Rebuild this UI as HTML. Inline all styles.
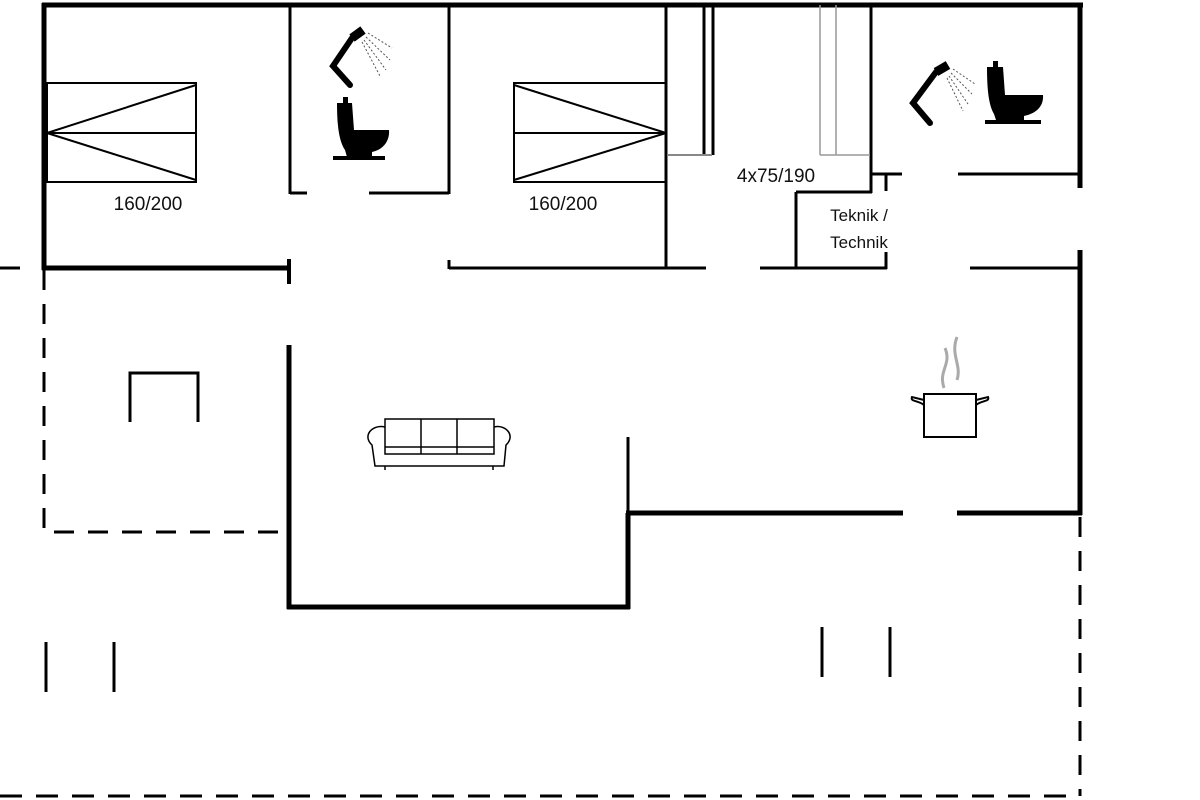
<!DOCTYPE html>
<html><head><meta charset="utf-8"><style>
html,body{margin:0;padding:0;background:#fff;}
svg{display:block;}
text{font-family:"Liberation Sans",sans-serif;fill:#111;}
</style></head><body>
<svg width="1200" height="800" viewBox="0 0 1200 800" xmlns="http://www.w3.org/2000/svg">
<g stroke="#000" fill="none" stroke-linecap="butt">
<line x1="42" y1="5" x2="1083" y2="5" stroke-width="5"/>
<line x1="44" y1="3" x2="44" y2="270" stroke-width="5"/>
<line x1="1080" y1="3" x2="1080" y2="188" stroke-width="5"/>
<line x1="1080" y1="250" x2="1080" y2="515" stroke-width="5"/>
<line x1="42" y1="268" x2="290" y2="268" stroke-width="5"/>
<line x1="289" y1="259" x2="289" y2="284" stroke-width="4"/>
<line x1="0" y1="268" x2="20" y2="268" stroke-width="3"/>
<line x1="44" y1="270" x2="44" y2="532" stroke-width="3" stroke-dasharray="20 14"/>
<line x1="44" y1="532" x2="288" y2="532" stroke-width="3" stroke-dasharray="20 14" stroke-dashoffset="-10"/>
<line x1="1080" y1="517" x2="1080" y2="796" stroke-width="3" stroke-dasharray="20 14"/>
<line x1="0" y1="796" x2="1080" y2="796" stroke-width="3" stroke-dasharray="22 14"/>
<line x1="290" y1="5" x2="290" y2="194" stroke-width="3"/>
<line x1="449" y1="5" x2="449" y2="194" stroke-width="3"/>
<line x1="290" y1="193" x2="307" y2="193" stroke-width="3"/>
<line x1="369" y1="193" x2="449" y2="193" stroke-width="3"/>
<line x1="449" y1="260" x2="449" y2="269" stroke-width="3"/>
<line x1="449" y1="268" x2="706" y2="268" stroke-width="3"/>
<line x1="666" y1="5" x2="666" y2="269" stroke-width="3"/>
<line x1="760" y1="268" x2="887" y2="268" stroke-width="3"/>
<line x1="796" y1="192" x2="796" y2="269" stroke-width="3"/>
<line x1="796" y1="192" x2="872" y2="192" stroke-width="3"/>
<line x1="871" y1="5" x2="871" y2="193" stroke-width="3"/>
<line x1="871" y1="174" x2="902" y2="174" stroke-width="3"/>
<line x1="886" y1="174" x2="886" y2="191" stroke-width="3"/>
<line x1="886" y1="252" x2="886" y2="269" stroke-width="3"/>
<line x1="958" y1="174" x2="1080" y2="174" stroke-width="3"/>
<line x1="970" y1="268" x2="1080" y2="268" stroke-width="3"/>
<line x1="704" y1="5" x2="704" y2="155" stroke-width="3"/>
<line x1="713" y1="5" x2="713" y2="155" stroke-width="3"/>
<line x1="666" y1="155" x2="712" y2="155" stroke-width="2" stroke="#888"/>
<line x1="820" y1="5" x2="820" y2="155" stroke-width="1.5" stroke="#999"/>
<line x1="836" y1="5" x2="836" y2="155" stroke-width="1.5" stroke="#999"/>
<line x1="820" y1="155" x2="870" y2="155" stroke-width="1.5" stroke="#999"/>
<line x1="289" y1="345" x2="289" y2="609" stroke-width="5"/>
<line x1="287" y1="607" x2="630" y2="607" stroke-width="5"/>
<line x1="628" y1="513" x2="628" y2="609" stroke-width="5"/>
<line x1="628" y1="437" x2="628" y2="513" stroke-width="3"/>
<line x1="626" y1="513" x2="903" y2="513" stroke-width="5"/>
<line x1="957" y1="513" x2="1082" y2="513" stroke-width="5"/>
<line x1="46" y1="642" x2="46" y2="692" stroke-width="3"/>
<line x1="114" y1="642" x2="114" y2="692" stroke-width="3"/>
<line x1="822" y1="627" x2="822" y2="677" stroke-width="3"/>
<line x1="890" y1="627" x2="890" y2="677" stroke-width="3"/>
<g stroke-width="2">
<rect x="47" y="83" width="149" height="99"/>
<line x1="47" y1="133" x2="196" y2="133"/>
<line x1="47" y1="133" x2="196" y2="85"/>
<line x1="47" y1="133" x2="196" y2="180"/>
<rect x="514" y="83" width="152" height="99"/>
<line x1="514" y1="133" x2="666" y2="133"/>
<line x1="514" y1="85" x2="666" y2="133"/>
<line x1="514" y1="180" x2="666" y2="133"/>
</g>
<polyline points="130,422 130,373 198,373 198,422" stroke-width="3"/>
<g stroke-width="1.5">
<rect x="385" y="419" width="109" height="35"/>
<line x1="421" y1="419" x2="421" y2="454"/>
<line x1="457" y1="419" x2="457" y2="454"/>
<line x1="385" y1="447" x2="494" y2="447"/>
<path d="M385,427 C372,424 362,436 372,445 L375,466 L504,466 L506,445 C516,436 506,424 494,427"/>
<line x1="385" y1="466" x2="385" y2="470"/><line x1="493" y1="466" x2="493" y2="470"/>
</g>
<g stroke-width="2">
<rect x="924" y="394" width="52" height="43"/>
<path d="M924,405 C918,400 910,402 912,397 L924,400"/>
<path d="M976,405 C982,400 990,402 988,397 L976,400"/>
</g>
<path d="M944,388 C938,370 952,365 945,348 M957,380 C962,365 950,355 957,337" stroke="#aaa" stroke-width="3"/>
<path d="M350,85 L333,66 L352,38" stroke-width="6" stroke-linecap="round"/>
<path d="M352,38 L363,30" stroke-width="9"/>
<g stroke="#555" stroke-width="1" stroke-dasharray="2 2">
<line x1="368" y1="33" x2="392" y2="48"/><line x1="366" y1="37" x2="390" y2="60"/><line x1="364" y1="40" x2="386" y2="70"/><line x1="362" y1="42" x2="380" y2="76"/>
</g>
<path d="M930,123 L913,103 L936,72" stroke-width="6" stroke-linecap="round"/>
<path d="M936,72 L948,65" stroke-width="9"/>
<g stroke="#555" stroke-width="1" stroke-dasharray="2 2">
<line x1="953" y1="69" x2="975" y2="84"/><line x1="951" y1="73" x2="972" y2="94"/><line x1="949" y1="76" x2="968" y2="104"/><line x1="947" y1="78" x2="963" y2="111"/>
</g>
</g>
<g fill="#000">
<rect x="343" y="97" width="5" height="6"/>
<path d="M337,103 L352,103 L354,130 L389,130 C390,142 382,150 372,152 L372,157 L347,157 L345,150 C338,140 337,120 337,103 Z"/>
<rect x="333" y="156" width="52" height="4"/>
<rect x="993" y="61" width="5" height="6"/>
<path d="M987,67 L1003,67 L1005,95 L1043,95 C1044,107 1035,114 1024,116 L1024,120 L996,120 L994,114 C988,104 987,85 987,67 Z"/>
<rect x="985" y="120" width="56" height="4"/>
</g>
<text x="148" y="210" font-size="19" text-anchor="middle">160/200</text>
<text x="563" y="210" font-size="19" text-anchor="middle">160/200</text>
<text x="776" y="182" font-size="19" text-anchor="middle">4x75/190</text>
<text x="859" y="221" font-size="17" text-anchor="middle">Teknik /</text>
<text x="859" y="248" font-size="17" text-anchor="middle">Technik</text>
</svg>
</body></html>
